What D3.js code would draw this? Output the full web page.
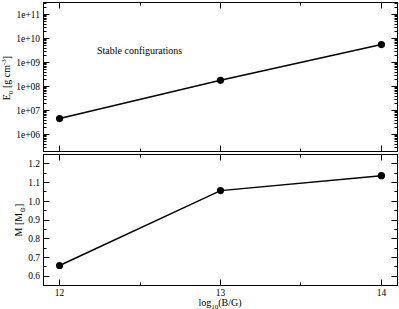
<!DOCTYPE html>
<html>
<head>
<meta charset="utf-8">
<script src="https://cdn.jsdelivr.net/npm/d3@7"></script>
<style>
  body{margin:0;background:#fff;}
  svg{display:block;}
  text{font-family:"Liberation Serif","Times New Roman",Times,"DejaVu Serif",serif;}
  .frame{fill:none;stroke:#000;stroke-width:1;}
  .tick{stroke:#000;stroke-width:1;}
  .lbl{font-size:9.5px;fill:#000;}
</style>
</head>
<body>
<svg id="chart" width="399" height="309"></svg>
<script>
// log10(B/G)
const logB = [12, 13, 14];
// central energy density E0 [g cm^-3]
const E0 = [4.6e6, 1.8e8, 5.6e9];
// mass M [Msun]
const M = [0.657, 1.057, 1.137];
const xTicks = [12, 13, 14];
const eTicks = [1e6, 1e7, 1e8, 1e9, 1e10, 1e11];
const eTickLabels = ['1e+06', '1e+07', '1e+08', '1e+09', '1e+10', '1e+11'];
const mTicks = [0.6, 0.7, 0.8, 0.9, 1.0, 1.1, 1.2];

const svg = d3.select('#chart');
const L = 43.5, R = 397.5;
const top1 = 2.5, bot1 = 151.5, top2 = 154.5, bot2 = 285.5;

const x = d3.scaleLinear().domain([11.9, 14.1]).range([L, R]);
const yE = d3.scaleLog().domain([Math.pow(10, 5.29), Math.pow(10, 11.5)]).range([bot1, top1]);
const yM = d3.scaleLinear().domain([0.55, 1.25]).range([bot2, top2]);

const snap = v => Math.round(v - 0.5) + 0.5;

function frame(t, b){
  svg.append('rect').attr('class','frame').attr('x',L).attr('y',t).attr('width',R-L).attr('height',b-t);
}

function xTicksOn(t, b){
  const minors = [12.5, 13.5];
  const g = svg.append('g');
  xTicks.forEach(v=>{
    const px = snap(x(v));
    g.append('line').attr('class','tick').attr('x1',px).attr('x2',px).attr('y1',b).attr('y2',b-6);
    g.append('line').attr('class','tick').attr('x1',px).attr('x2',px).attr('y1',t).attr('y2',t+6);
  });
  minors.forEach(v=>{
    const px = snap(x(v));
    g.append('line').attr('class','tick').attr('x1',px).attr('x2',px).attr('y1',b).attr('y2',b-3);
    g.append('line').attr('class','tick').attr('x1',px).attr('x2',px).attr('y1',t).attr('y2',t+3);
  });
}

function yTicksOn(scale, majors, minors){
  const g = svg.append('g');
  majors.forEach(v=>{
    const py = snap(scale(v));
    g.append('line').attr('class','tick').attr('x1',L).attr('x2',L+6).attr('y1',py).attr('y2',py);
    g.append('line').attr('class','tick').attr('x1',R).attr('x2',R-6).attr('y1',py).attr('y2',py);
  });
  minors.forEach(v=>{
    const py = snap(scale(v));
    g.append('line').attr('class','tick').attr('x1',L).attr('x2',L+3).attr('y1',py).attr('y2',py);
    g.append('line').attr('class','tick').attr('x1',R).attr('x2',R-3).attr('y1',py).attr('y2',py);
  });
}

// top panel
frame(top1, bot1);
xTicksOn(top1, bot1);
const eMinors = [];
[5, 6, 7, 8, 9, 10, 11].forEach(d=>{
  for(let k=2;k<=9;k++){
    const v = k*Math.pow(10,d);
    if(v > yE.domain()[0] && v < yE.domain()[1]) eMinors.push(v);
  }
});
yTicksOn(yE, eTicks, eMinors);
svg.append('g').selectAll('text').data(eTicks).enter().append('text')
  .attr('class','lbl').attr('x',40).attr('y',d=>yE(d)).attr('dy','0.35em')
  .attr('text-anchor','end').text((d,i)=>eTickLabels[i]);

const lineE = d3.line().x((d,i)=>x(logB[i])).y(d=>yE(d));
svg.append('path').datum(E0).attr('d',lineE).attr('fill','none').attr('stroke','#000').attr('stroke-width',1.5);
svg.append('g').selectAll('circle').data(E0).enter().append('circle')
  .attr('cx',(d,i)=>x(logB[i])).attr('cy',d=>yE(d)).attr('r',3.6).attr('fill','#000');

svg.append('text').attr('x',97).attr('y',54).style('font-size','10px').text('Stable configurations');

const eLab = svg.append('text').attr('transform','translate(10,78) rotate(-90)')
  .attr('text-anchor','middle').style('font-size','10px');
eLab.append('tspan').text('E');
eLab.append('tspan').attr('dy',2.5).style('font-size','7px').text('0');
eLab.append('tspan').attr('dy',-2.5).text(' [g cm');
eLab.append('tspan').attr('dy',-4).style('font-size','7px').text('-3');
eLab.append('tspan').attr('dy',4).text(']');

// bottom panel
frame(top2, bot2);
xTicksOn(top2, bot2);
const mMinors = [0.55, 0.65, 0.75, 0.85, 0.95, 1.05, 1.15, 1.25].filter(v=>v>0.551 && v<1.249);
yTicksOn(yM, mTicks, mMinors);
svg.append('g').selectAll('text').data(mTicks).enter().append('text')
  .attr('class','lbl').attr('x',40).attr('y',d=>yM(d)).attr('dy','0.35em')
  .attr('text-anchor','end').text(d=>d3.format('.1f')(d));

const lineM = d3.line().x((d,i)=>x(logB[i])).y(d=>yM(d));
svg.append('path').datum(M).attr('d',lineM).attr('fill','none').attr('stroke','#000').attr('stroke-width',1.5);
svg.append('g').selectAll('circle').data(M).enter().append('circle')
  .attr('cx',(d,i)=>x(logB[i])).attr('cy',d=>yM(d)).attr('r',3.6).attr('fill','#000');

svg.append('g').selectAll('text').data(xTicks).enter().append('text')
  .attr('class','lbl').attr('x',d=>x(d)).attr('y',296).attr('text-anchor','middle').text(d=>d);

const mLab = svg.append('text').attr('transform','translate(22,220) rotate(-90)')
  .attr('text-anchor','middle').style('font-size','10px');
mLab.append('tspan').text('M [M');
mLab.append('tspan').attr('dy',2.5).style('font-size','7px').text('\u2299');
mLab.append('tspan').attr('dy',-2.5).text(']');

const xLab = svg.append('text').attr('x',220).attr('y',306).attr('text-anchor','middle').style('font-size','10px');
xLab.append('tspan').text('log');
xLab.append('tspan').attr('dy',2.5).style('font-size','7px').text('10');
xLab.append('tspan').attr('dy',-2.5).text('(B/G)');
</script>
</body>
</html>
